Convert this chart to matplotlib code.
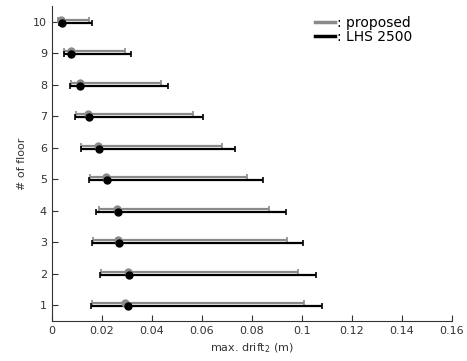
import numpy as np
import matplotlib
matplotlib.use("Agg")
import matplotlib.pyplot as plt
from matplotlib.lines import Line2D

# floors and drift values
floors = np.arange(1, 11)

prop_mean = [0.0292, 0.0303, 0.0264, 0.0259, 0.0217, 0.0185, 0.0143, 0.0111, 0.0075, 0.0036]
prop_low = [0.0161, 0.0197, 0.0165, 0.0187, 0.0152, 0.0117, 0.0096, 0.0076, 0.0049, 0.0025]
prop_high = [0.1008, 0.0984, 0.0939, 0.0868, 0.0781, 0.0681, 0.0563, 0.0435, 0.0293, 0.0149]

lhs_mean = [0.0304, 0.0307, 0.0269, 0.0263, 0.0221, 0.0189, 0.0148, 0.0113, 0.0076, 0.0039]
lhs_low = [0.0157, 0.0192, 0.0159, 0.0175, 0.0147, 0.0115, 0.0093, 0.0071, 0.0048, 0.0028]
lhs_high = [0.1081, 0.1055, 0.1005, 0.0936, 0.0843, 0.0731, 0.0605, 0.0465, 0.0315, 0.0159]

xticks = [0, 0.02, 0.04, 0.06, 0.08, 0.1, 0.12, 0.14, 0.16]
xtick_labels = ["0", "0.02", "0.04", "0.06", "0.08", "0.1", "0.12", "0.14", "0.16"]


def draw_series(ax, y, mean, low, high, color):
    mean = np.array(mean)
    err = [mean - np.array(low), np.array(high) - mean]
    ax.errorbar(mean, y, xerr=err, fmt="o", color=color, ecolor=color,
                markersize=5, elinewidth=1.6, capsize=2, capthick=1.2)


fig = plt.figure(figsize=(4.67, 3.61), dpi=100)
ax = fig.add_axes([0.111, 0.111, 0.857, 0.872])

draw_series(ax, floors + 0.07, prop_mean, prop_low, prop_high, "#8a8a8a")
draw_series(ax, floors - 0.03, lhs_mean, lhs_low, lhs_high, "black")

ax.set_xlim(0, 0.16)
ax.set_ylim(0.5, 10.5)
ax.set_xticks(xticks)
ax.set_xticklabels(xtick_labels)
ax.set_yticks(floors)
ax.tick_params(direction="in", labelsize=8, length=4, colors="#333333")
for s in ["top", "right"]:
    ax.spines[s].set_visible(False)
for s in ["left", "bottom"]:
    ax.spines[s].set_color("#333333")

ax.set_xlabel("max. drift$_2$ (m)", fontsize=8, color="#333333")
ax.set_ylabel("# of floor", fontsize=8, color="#333333")

handles = [Line2D([], [], color="#8a8a8a", lw=2.5),
           Line2D([], [], color="black", lw=2.5)]
ax.legend(handles, [": proposed", ": LHS 2500"], loc="upper right",
          bbox_to_anchor=(0.9, 0.97), frameon=False, fontsize=10,
          handlelength=1.4, handletextpad=0.15, labelspacing=0.05,
          borderpad=0, borderaxespad=0)

fig.savefig("out.png", dpi=100)
